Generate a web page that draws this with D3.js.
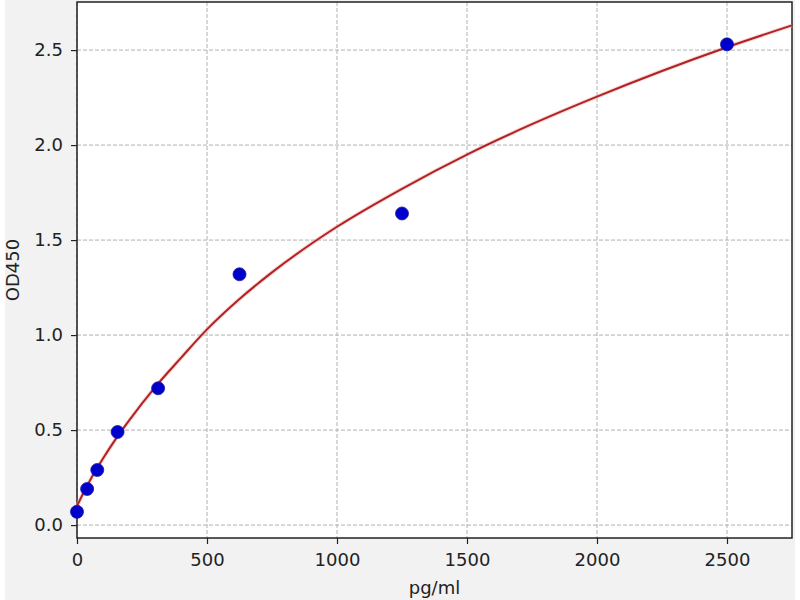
<!DOCTYPE html>
<html>
<head>
<meta charset="utf-8">
<script src="https://cdn.jsdelivr.net/npm/d3@7/dist/d3.min.js"></script>
<style>
  body { margin: 0; background: #fff; }
  text { font-family: "DejaVu Sans", sans-serif; fill: #222; }
</style>
</head>
<body>
<div id="chart"></div>
<script>
// standard points (concentration, OD)
const concentrations = [0, 39, 78, 156, 312, 625, 1250, 2500];
const odValues = [0.07, 0.19, 0.29, 0.49, 0.72, 1.32, 1.64, 2.53];

// fitted curve
const curveX = [0, 25, 50, 100, 150, 200, 300, 400, 500, 625, 750, 1000, 1250, 1500, 1750, 2000, 2250, 2500, 2750];
const curveY = [0.10, 0.17, 0.235, 0.35, 0.455, 0.55, 0.725, 0.88, 1.03, 1.19, 1.33, 1.57, 1.77, 1.95, 2.11, 2.255, 2.39, 2.515, 2.63];

const xTicks = [0, 500, 1000, 1500, 2000, 2500];
const yTicks = [0.0, 0.5, 1.0, 1.5, 2.0, 2.5];

const width = 800;
const height = 600;
const plot = { left: 77, right: 792, top: 2, bottom: 538 };

const svg = d3.select("#chart")
    .append("svg")
    .attr("width", width)
    .attr("height", height);

// figure background
svg.append("rect")
    .attr("x", 5).attr("y", 0)
    .attr("width", 790).attr("height", height)
    .attr("fill", "#f2f2f2");

svg.append("rect")
    .attr("x", plot.left).attr("y", plot.top)
    .attr("width", plot.right - plot.left)
    .attr("height", plot.bottom - plot.top)
    .attr("fill", "#fff");

const x = d3.scaleLinear().domain([0, 2750]).range([plot.left, plot.right]);
const y = d3.scaleLinear().domain([-0.068, 2.753]).range([plot.bottom, plot.top]);

// grid
svg.append("g")
    .selectAll("line")
    .data(xTicks)
    .enter()
    .append("line")
    .attr("x1", d => x(d)).attr("x2", d => x(d))
    .attr("y1", plot.top).attr("y2", plot.bottom)
    .attr("stroke", "#b0b0b0")
    .attr("stroke-width", 1)
    .attr("stroke-dasharray", "4,2");

svg.append("g")
    .selectAll("line")
    .data(yTicks)
    .enter()
    .append("line")
    .attr("x1", plot.left).attr("x2", plot.right)
    .attr("y1", d => y(d)).attr("y2", d => y(d))
    .attr("stroke", "#b0b0b0")
    .attr("stroke-width", 1)
    .attr("stroke-dasharray", "4,2");

// axes
const xAxis = svg.append("g")
    .attr("transform", `translate(0,${plot.bottom})`)
    .call(d3.axisBottom(x).tickValues(xTicks).tickFormat(d3.format("d")).tickSize(6).tickPadding(9));

const yAxis = svg.append("g")
    .attr("transform", `translate(${plot.left},0)`)
    .call(d3.axisLeft(y).tickValues(yTicks).tickFormat(d3.format(".1f")).tickSize(6).tickPadding(8));

[xAxis, yAxis].forEach(a => {
    a.select(".domain").remove();
    a.selectAll(".tick line").attr("stroke", "#222").attr("stroke-width", 1.2);
    a.selectAll(".tick text")
        .style("font-family", "DejaVu Sans, sans-serif")
        .style("font-size", "18px")
        .attr("fill", "#222");
});

// frame
svg.append("rect")
    .attr("x", plot.left).attr("y", plot.top)
    .attr("width", plot.right - plot.left)
    .attr("height", plot.bottom - plot.top)
    .attr("fill", "none")
    .attr("stroke", "#222")
    .attr("stroke-width", 1.5);

// fitted curve
const curveData = curveX.map((c, i) => [c, curveY[i]]);
const line = d3.line()
    .x(d => x(d[0]))
    .y(d => y(d[1]))
    .curve(d3.curveMonotoneX);

svg.append("path")
    .datum(curveData)
    .attr("d", line)
    .attr("fill", "none")
    .attr("stroke", "#f4b0b0")
    .attr("stroke-width", 4)
    .attr("opacity", 0.5);

svg.append("path")
    .datum(curveData)
    .attr("d", line)
    .attr("fill", "none")
    .attr("stroke", "#b22222")
    .attr("stroke-width", 2);

// points
svg.append("g")
    .selectAll("circle")
    .data(concentrations.map((c, i) => [c, odValues[i]]))
    .enter()
    .append("circle")
    .attr("cx", d => x(d[0]))
    .attr("cy", d => y(d[1]))
    .attr("r", 6.5)
    .attr("fill", "#0000cd")
    .attr("stroke", "#1a1a9a")
    .attr("stroke-width", 0.8);

// axis labels
svg.append("text")
    .attr("x", (plot.left + plot.right) / 2)
    .attr("y", 594)
    .attr("text-anchor", "middle")
    .style("font-size", "18px")
    .text("pg/ml");

svg.append("text")
    .attr("transform", `translate(19,${(plot.top + plot.bottom) / 2}) rotate(-90)`)
    .attr("text-anchor", "middle")
    .style("font-size", "18px")
    .text("OD450");
</script>
</body>
</html>
